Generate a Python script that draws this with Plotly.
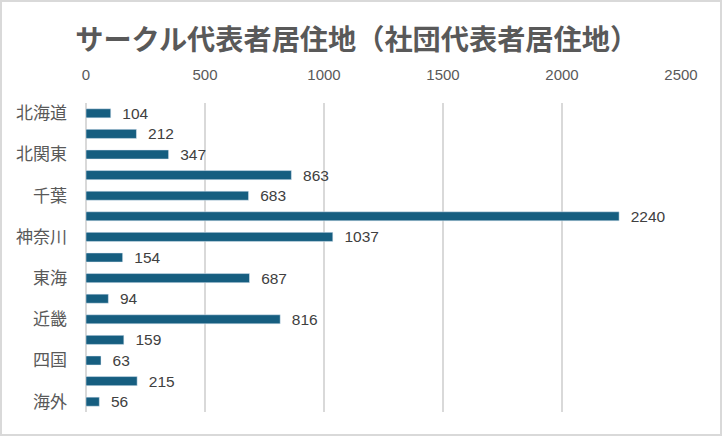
import plotly.graph_objects as go

categories = ["北海道", "東北", "北関東", "埼玉", "千葉", "東京", "神奈川", "甲信越",
              "東海", "北陸", "近畿", "中国", "四国", "九州", "海外"]
values = [104, 212, 347, 863, 683, 2240, 1037, 154, 687, 94, 816, 159, 63, 215, 56]
shown_labels = ["北海道", "北関東", "千葉", "神奈川", "東海", "近畿", "四国", "海外"]
x_ticks = [0, 500, 1000, 1500, 2000, 2500]

W, H = 722, 436
ml, mr, mt, mb = 86, 41, 103, 24
pw, ph = W - ml - mr, H - mt - mb

font_family = "Noto Sans CJK JP, Noto Sans, sans-serif"
num_font = "Liberation Sans, Arial, sans-serif"

fig = go.Figure(go.Bar(
    x=values, y=categories, orientation="h",
    marker=dict(color="#165e80"),
    text=["\u00a0\u00a0" + str(v) for v in values], textposition="outside",
    constraintext="none",
    textfont=dict(size=15.5, color="#404040", family=num_font),
    cliponaxis=False,
    hoverinfo="x+y",
))

def px_x(p):
    return (p - ml) / pw

def px_y(p):
    return 1 - (p - mt) / ph

fig.update_layout(
    width=W, height=H,
    margin=dict(l=ml, r=mr, t=mt, b=mb),
    paper_bgcolor="white", plot_bgcolor="white",
    bargap=0.56,
    showlegend=False,
    title=dict(text="<b>サークル代表者居住地（社団代表者居住地）</b>",
               x=0.494, xanchor="center", y=1 - 40 / H, yanchor="middle",
               font=dict(size=28.2, color="#595959", family=font_family)),
    xaxis=dict(side="top", range=[0, 2500], tickvals=x_ticks,
               showgrid=True, gridcolor="#d9d9d9", gridwidth=1.5,
               zeroline=True, zerolinecolor="#d9d9d9", zerolinewidth=1.5,
               tickfont=dict(size=15, color="#595959", family=num_font),
               ticks="", showline=False, ticklabelstandoff=19),
    yaxis=dict(categoryorder="array", categoryarray=categories,
               autorange="reversed", tickvals=shown_labels,
               tickfont=dict(size=17, color="#595959", family=font_family),
               ticks="", showline=False, showgrid=False, ticklabelstandoff=18),
    shapes=[dict(type="rect", xref="paper", yref="paper",
                 x0=px_x(1), x1=px_x(W - 1), y0=px_y(1), y1=px_y(H - 1),
                 line=dict(color="#d9d9d9", width=2), layer="below")],
)

fig.write_html("out.html", config={"displayModeBar": False},
               post_script="document.body.style.margin='0';document.body.style.padding='0';")
